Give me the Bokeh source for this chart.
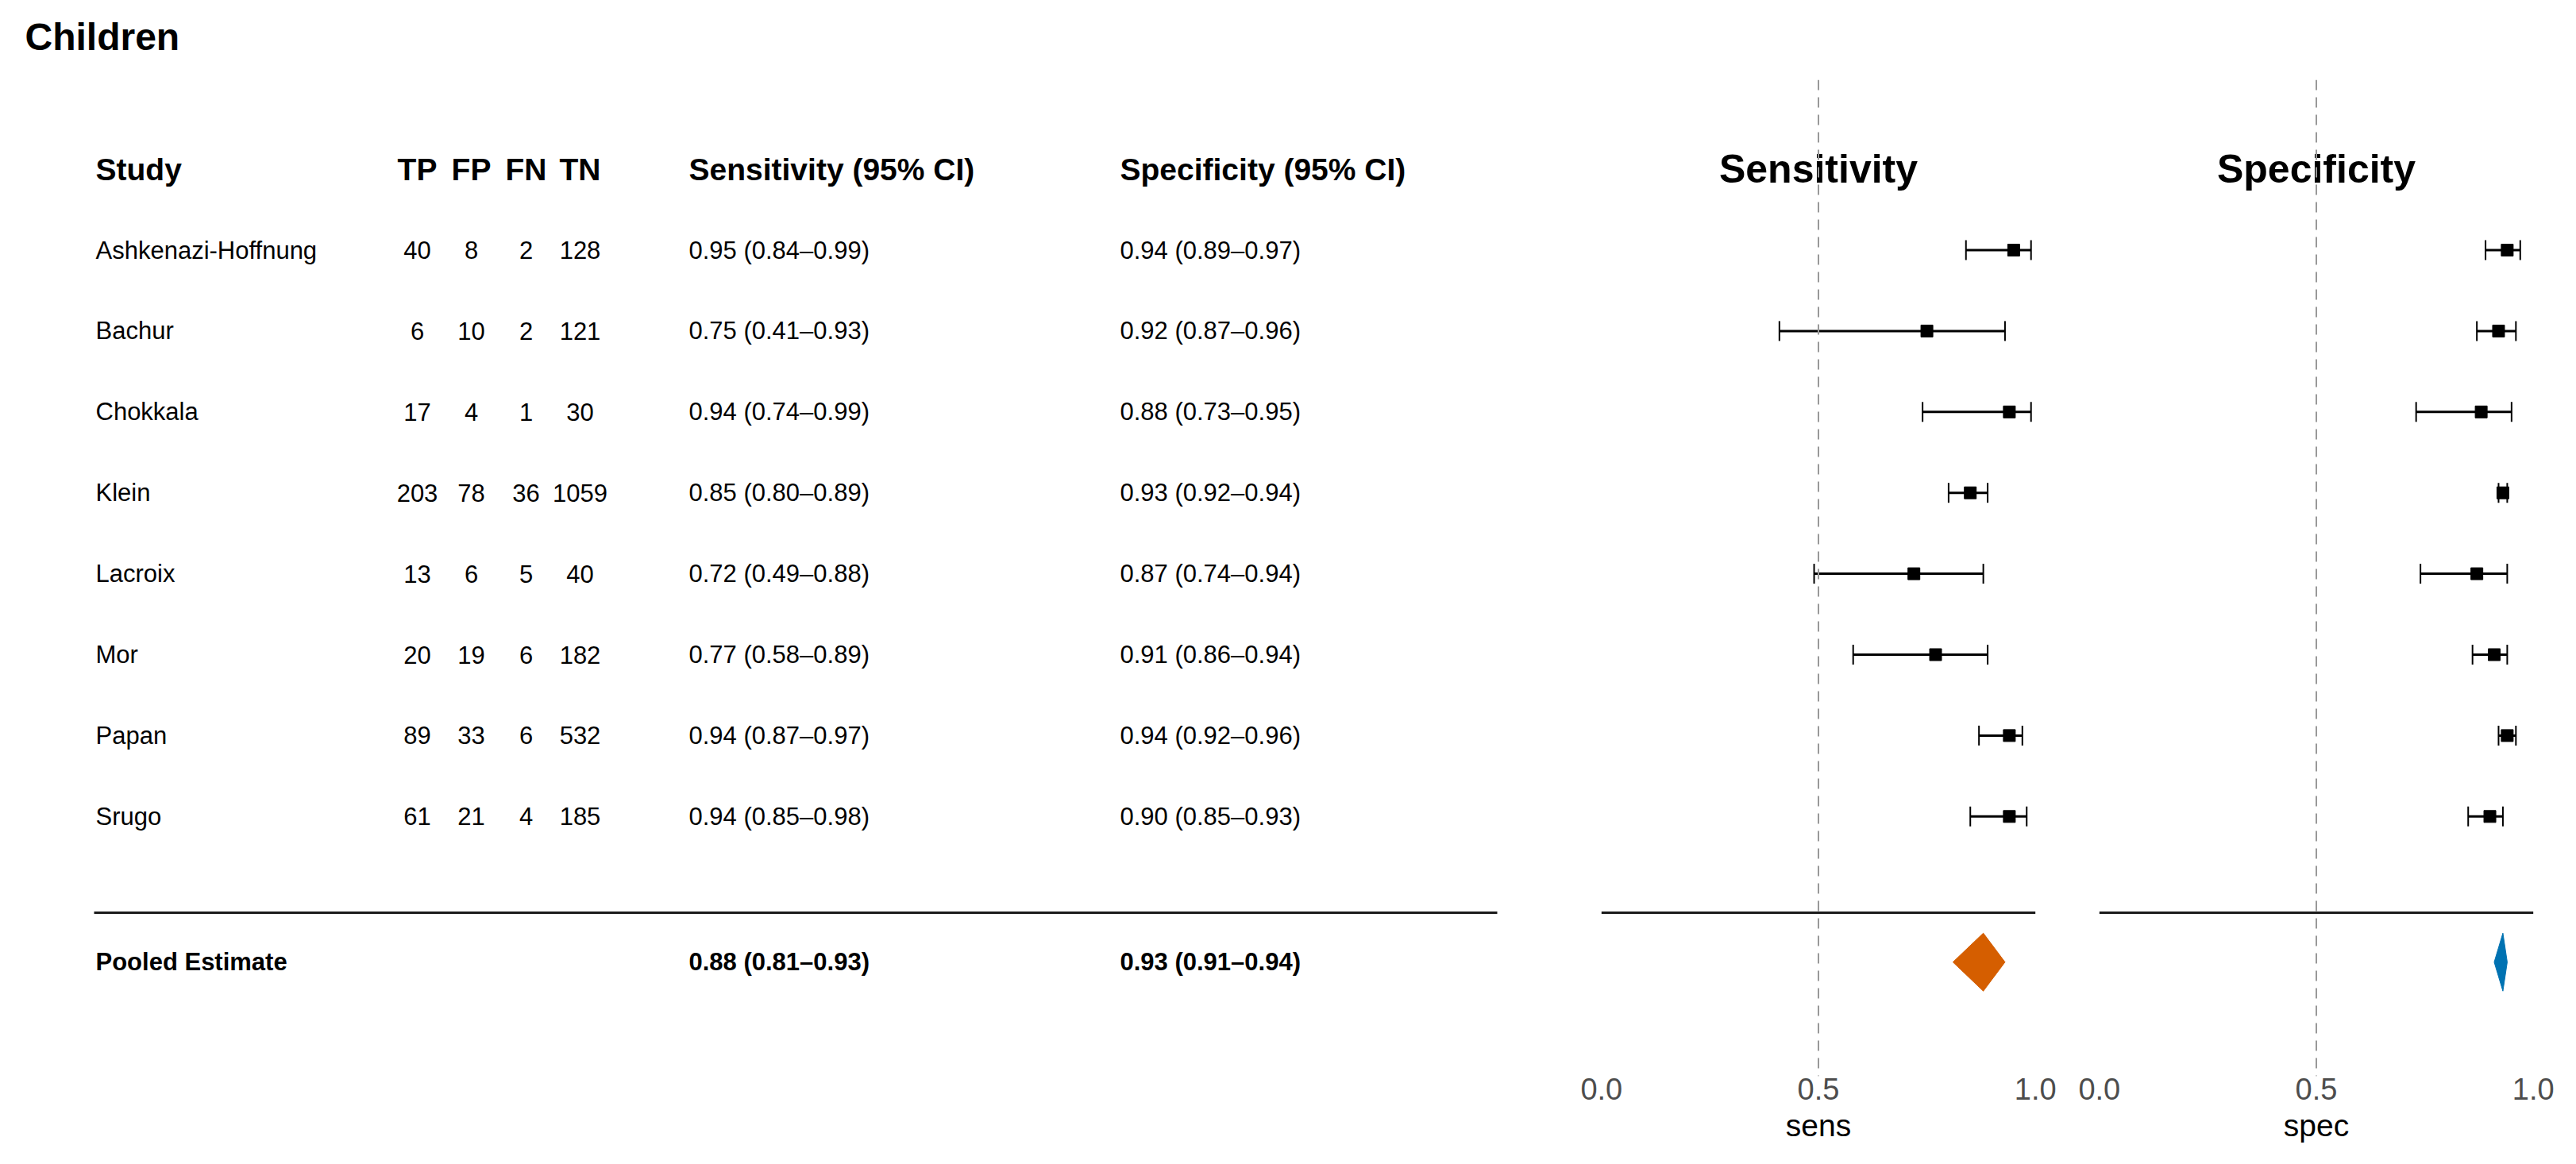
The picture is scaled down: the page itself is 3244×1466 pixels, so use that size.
from bokeh.plotting import figure
from bokeh.layouts import row
from bokeh.models import (Range1d, ColumnDataSource, Whisker, TeeHead, Span,
                          FixedTicker, NumeralTickFormatter)
from bokeh.core.properties import value
from bokeh.embed import file_html
from bokeh.resources import INLINE

# ---------------- data ----------------
chart_title = "Children"
studies = ["Ashkenazi-Hoffnung", "Bachur", "Chokkala", "Klein", "Lacroix", "Mor", "Papan", "Srugo"]
tp = [40, 6, 17, 203, 13, 20, 89, 61]
fp = [8, 10, 4, 78, 6, 19, 33, 21]
fn = [2, 2, 1, 36, 5, 6, 6, 4]
tn = [128, 121, 30, 1059, 40, 182, 532, 185]
sens = [0.95, 0.75, 0.94, 0.85, 0.72, 0.77, 0.94, 0.94]
sens_lo = [0.84, 0.41, 0.74, 0.80, 0.49, 0.58, 0.87, 0.85]
sens_hi = [0.99, 0.93, 0.99, 0.89, 0.88, 0.89, 0.97, 0.98]
spec = [0.94, 0.92, 0.88, 0.93, 0.87, 0.91, 0.94, 0.90]
spec_lo = [0.89, 0.87, 0.73, 0.92, 0.74, 0.86, 0.92, 0.85]
spec_hi = [0.97, 0.96, 0.95, 0.94, 0.94, 0.94, 0.96, 0.93]
pooled_label = "Pooled Estimate"
pooled_sens = [0.88, 0.81, 0.93]   # estimate, lower, upper
pooled_spec = [0.93, 0.91, 0.94]
col_headers = ["Study", "TP", "FP", "FN", "TN", "Sensitivity (95% CI)", "Specificity (95% CI)"]
panel_titles = ["Sensitivity", "Specificity"]
axis_titles = ["sens", "spec"]
tick_values = [0.0, 0.5, 1.0]

# ---------------- layout constants ----------------
W, H = 3244, 1466
ROW0_PX, PITCH = 314.5, 101.9
HEADER_ROW, SEP_ROW, POOLED_ROW = -1.0, 8.19, 8.80
FONT = "Liberation Sans"
TABLE_W = 1989
X_STUDY, X_TP, X_FP, X_FN, X_TN, X_SENS, X_SPEC = 120, 525, 593, 662, 730, 867, 1410
ORANGE, BLUE = "#D55E00", "#0072B2"


def yrange(top_px, bot_px):
    return Range1d((bot_px - ROW0_PX) / PITCH, (top_px - ROW0_PX) / PITCH)


def fmt(e, lo, hi):
    return f"{e:.2f} ({lo:.2f}\u2013{hi:.2f})"


rows = list(range(len(studies)))

# ---------------- table figure ----------------
pA = figure(width=TABLE_W, height=H, x_range=Range1d(0, TABLE_W), y_range=yrange(0, H),
            output_backend="svg", toolbar_location=None, x_axis_location=None,
            y_axis_location=None, min_border=0, outline_line_color=None)
pA.frame_align = False
pA.xgrid.visible = False
pA.ygrid.visible = False


def txt(p, xs, ys, texts, size, align="left", bold=False, color="black"):
    p.text(x=xs, y=ys, text=texts, text_font=value(FONT), text_font_size=size,
           text_align=align, text_baseline="middle", text_color=color,
           text_font_style="bold" if bold else "normal")


# title
txt(pA, [31], [(46 - ROW0_PX) / PITCH], [chart_title], "48px", bold=True)

# headers
hx = [X_STUDY, X_TP, X_FP, X_FN, X_TN, X_SENS, X_SPEC]
halign = ["left", "center", "center", "center", "center", "left", "left"]
for x, h, a in zip(hx, col_headers, halign):
    txt(pA, [x], [HEADER_ROW], [h], "39px", align=a, bold=True)

# body
txt(pA, [X_STUDY] * len(rows), rows, studies, "31px")
txt(pA, [X_TP] * len(rows), rows, [str(v) for v in tp], "31px", align="center")
txt(pA, [X_FP] * len(rows), rows, [str(v) for v in fp], "31px", align="center")
txt(pA, [X_FN] * len(rows), rows, [str(v) for v in fn], "31px", align="center")
txt(pA, [X_TN] * len(rows), rows, [str(v) for v in tn], "31px", align="center")
txt(pA, [X_SENS] * len(rows), rows, [fmt(e, l, h) for e, l, h in zip(sens, sens_lo, sens_hi)], "31px")
txt(pA, [X_SPEC] * len(rows), rows, [fmt(e, l, h) for e, l, h in zip(spec, spec_lo, spec_hi)], "31px")

# separator + pooled row
pA.segment(x0=[118], y0=[SEP_ROW], x1=[1885], y1=[SEP_ROW], line_width=3, line_color="#1a1a1a")
txt(pA, [X_STUDY], [POOLED_ROW], [pooled_label], "31px", bold=True)
txt(pA, [X_SENS], [POOLED_ROW], [fmt(*pooled_sens)], "31px", bold=True)
txt(pA, [X_SPEC], [POOLED_ROW], [fmt(*pooled_spec)], "31px", bold=True)


# ---------------- forest panels ----------------
def forest(est, lo, hi, pooled, color, title, xlabel, width, mbl, mbr):
    p = figure(width=width, height=H, x_range=Range1d(-0.05, 1.05), y_range=yrange(100, 1355),
               output_backend="svg", toolbar_location=None, y_axis_location=None,
               x_axis_location="below", min_border_left=mbl, min_border_right=mbr,
               min_border_top=100, min_border_bottom=111, outline_line_color=None)
    p.frame_align = False
    p.xgrid.visible = False
    p.ygrid.visible = False
    ax = p.xaxis[0]
    ax.ticker = FixedTicker(ticks=tick_values)
    ax.formatter = NumeralTickFormatter(format="0.0")
    ax.axis_line_color = None
    ax.major_tick_line_color = None
    ax.minor_tick_line_color = None
    ax.major_tick_in = 0
    ax.major_tick_out = 0
    ax.major_label_text_font = FONT
    ax.major_label_text_font_size = "38px"
    ax.major_label_text_color = "#4D4D4D"
    ax.major_label_standoff = 2
    ax.axis_label = xlabel
    ax.axis_label_text_font = FONT
    ax.axis_label_text_font_size = "39px"
    ax.axis_label_text_font_style = "normal"
    ax.axis_label_text_color = "black"
    ax.axis_label_standoff = 8

    lo_t, hi_t = min(tick_values), max(tick_values)
    mid = (lo_t + hi_t) / 2
    p.add_layout(Span(location=mid, dimension="height", line_color="#999999",
                      line_width=2, line_dash="13 9"))

    src = ColumnDataSource(dict(y=rows, est=est, lo=lo, hi=hi))
    p.add_layout(Whisker(source=src, base="y", lower="lo", upper="hi", dimension="width",
                         line_width=3, line_color="black", level="glyph",
                         upper_head=TeeHead(size=25, line_width=2, line_color="black"),
                         lower_head=TeeHead(size=25, line_width=2, line_color="black")))
    p.scatter("est", "y", source=src, marker="square", size=15, color="black")

    p.segment(x0=[lo_t], y0=[SEP_ROW], x1=[hi_t], y1=[SEP_ROW], line_width=3, line_color="#1a1a1a")

    e, l, h = pooled
    dh = 36.5 / PITCH
    p.patch(x=[l, e, h, e], y=[POOLED_ROW, POOLED_ROW - dh, POOLED_ROW, POOLED_ROW + dh],
            fill_color=color, line_color=color, line_width=1)

    p.text(x=[mid], y=[HEADER_ROW], text=[title], text_font=value(FONT), text_font_size="50px",
           text_font_style="bold", text_align="center", text_baseline="middle", text_color="black")
    return p


pB = forest(sens, sens_lo, sens_hi, pooled_sens, ORANGE, panel_titles[0], axis_titles[0], 621, 0, 20)
pC = forest(spec, spec_lo, spec_hi, pooled_spec, BLUE, panel_titles[1], axis_titles[1], 634, 6, 27)

layout = row(pA, pB, pC)
open("out.html", "w").write(file_html(layout, INLINE))
